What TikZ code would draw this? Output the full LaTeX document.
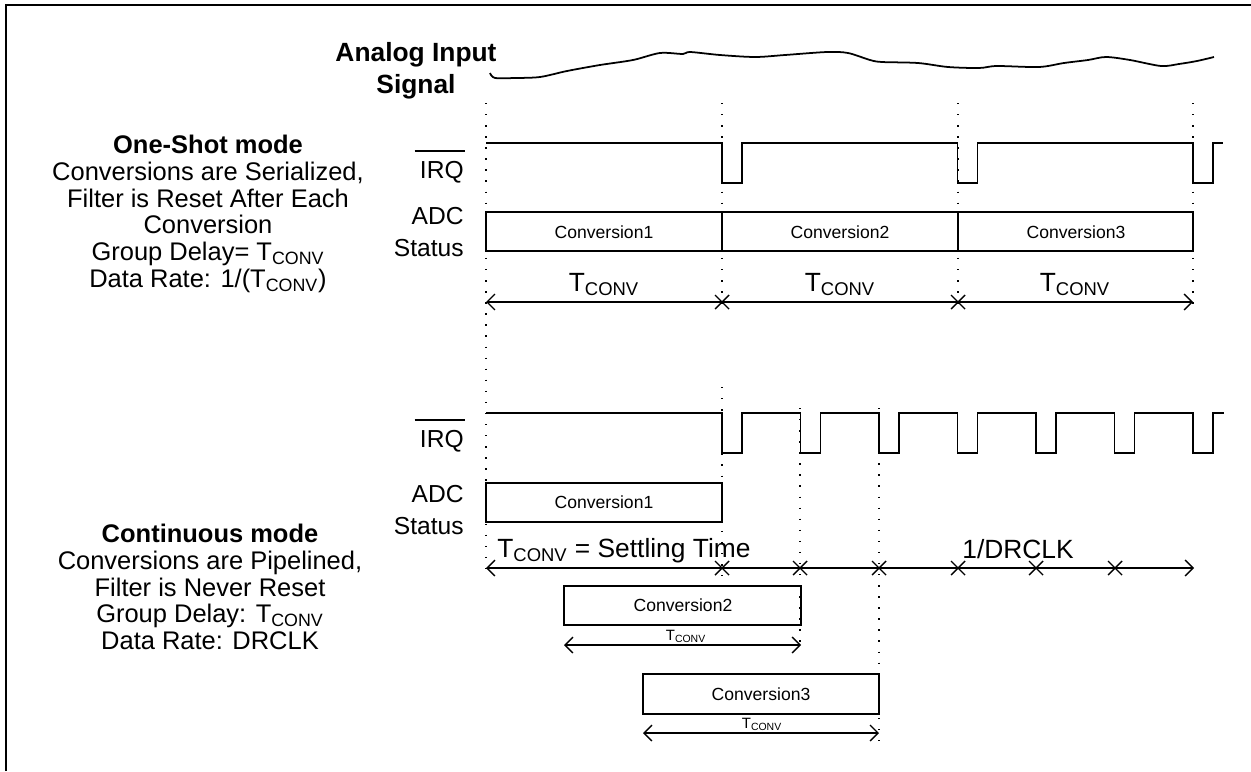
\documentclass[tikz,border=0pt]{standalone}
\usepackage{fontspec}
\setmainfont{Liberation Sans}
\usetikzlibrary{arrows.meta}

\newcommand{\tconv}{T\textsubscript{CONV}}
\newcommand{\ovbar}[1]{\setbox0\hbox{#1}\rlap{\kern-3pt\rule[\dimexpr\ht0+5pt\relax]{\dimexpr\wd0+4pt\relax}{0.9pt}}\box0}

\begin{document}
\begin{tikzpicture}[x=0.02cm, y=-0.02cm, >={Straight Barb[length=4.5pt,width=9pt]},
    wave/.style={line width=1.1pt},
    convbox/.style={line width=1pt},
    dimline/.style={line width=0.8pt},
    guide/.style={line width=0.8pt, dash pattern=on 0.8pt off 5.5pt},
    sidetext/.style={font=\fontsize{14.5}{15.25}\selectfont, align=center, inner sep=0pt},
    lbl/.style={font=\fontsize{14}{18.5}\selectfont, align=right, inner sep=0pt},
    boxtext/.style={font=\fontsize{10}{12}\selectfont, inner sep=0pt},
    bigtext/.style={font=\fontsize{15}{18}\selectfont, inner sep=0pt},
    smalltext/.style={font=\fontsize{8.5}{10}\selectfont, inner sep=0pt}]

\useasboundingbox (0,0) rectangle (1251,771);

% === Marco ===
\draw[line width=1.7pt] (6,771) -- (6,5) -- (1251,5);

% === Senal analogica ===
\node[font=\bfseries\fontsize{15}{18}\selectfont, align=center, inner sep=0pt] (analog) at (416,71) {Analog Input\\Signal};
\draw[line width=1pt] plot[smooth, tension=0.5] coordinates {
    (490,73) (495,78) (515,78) (540,77) (567,71) (600,65) (633,60) (660,53)
    (683,54) (690,52) (720,55) (755,57) (785,55) (827,52) (848,53) (870,60) (882,62)
    (918,63) (948,67) (979,68) (997,66) (1039,67) (1064,63) (1088,60) (1106,57)
    (1130,60) (1161,66) (1179,64) (1197,61) (1214,57)};

% === Lineas guia ===
\draw[guide] (486,103) -- (486,576);
\foreach \x in {722,958,1193}
    \draw[guide] (\x,103) -- (\x,312);
\draw[guide] (722,387) -- (722,576);
\draw[guide] (800,408) -- (800,650);
\draw[guide] (879,408) -- (879,745);

% === Modo One-Shot ===
\node[sidetext] (oneshot) at (208,214) {\textbf{One-Shot mode}\\Conversions are Serialized,\\Filter is Reset After Each\\Conversion\\Group Delay= \tconv\\Data Rate: 1/(\tconv)};
\node[lbl, anchor=base east] (irqA) at (464,178) {\ovbar{IRQ}};
\node[lbl, anchor=east] (adcA) at (464,232) {ADC\\Status};

% IRQ
\draw[wave] (486,143) foreach \k in {0,1,2} {
    -- ({722+235.5*\k},143) -- ({722+235.5*\k},183) -- ({742+235.5*\k},183) -- ({742+235.5*\k},143)
} -- (1223,143);

% Conversiones
\draw[convbox] (486,212) rectangle (1193,251);
\draw[convbox] (722,212) -- (722,251) (958,212) -- (958,251);
\node[boxtext] (convA1) at (604,232) {Conversion1};
\node[boxtext] (convA2) at (840,232) {Conversion2};
\node[boxtext] (convA3) at (1076,232) {Conversion3};

% T_CONV
\coordinate (tA0) at (486,302);
\coordinate (tA3) at (1193,302);
\draw[dimline, <->] (tA0) -- (tA3);
\foreach \x in {722,958}
    \draw[dimline] (\x-7,295) -- (\x+7,309) (\x-7,309) -- (\x+7,295);
\node[bigtext, anchor=base] (tconvA1) at (604,291) {\tconv};
\node[bigtext, anchor=base] (tconvA2) at (840,291) {\tconv};
\node[bigtext, anchor=base] (tconvA3) at (1075,291) {\tconv};

% === Modo continuo ===
\node[sidetext] (contmode) at (210,587) {\textbf{Continuous mode}\\Conversions are Pipelined,\\Filter is Never Reset\\Group Delay: \tconv\\Data Rate: DRCLK};
\node[lbl, anchor=base east] (irqB) at (464,447) {\ovbar{IRQ}};
\node[lbl, anchor=east] (adcB) at (464,510) {ADC\\Status};

% IRQ
\draw[wave] (486,413) foreach \k in {0,...,6} {
    -- ({722+78.5*\k},413) -- ({722+78.5*\k},453) -- ({742+78.5*\k},453) -- ({742+78.5*\k},413)
} -- (1224,413);

% Conversiones
\draw[convbox] (486,483) rectangle (722,522);
\node[boxtext] (convB1) at (604,502) {Conversion1};
\draw[convbox] (564,586) rectangle (801,625);
\node[boxtext] (convB2) at (683,605) {Conversion2};
\draw[convbox] (643,674) rectangle (879,714);
\node[boxtext] (convB3) at (761,694) {Conversion3};

% Tiempo de asentamiento y 1/DRCLK
\coordinate (tB0) at (486,568);
\coordinate (tB7) at (1194,568);
\draw[dimline, <->] (tB0) -- (tB7);
\foreach \x in {722,800,879,958,1036,1115}
    \draw[dimline] (\x-7,561) -- (\x+7,575) (\x-7,575) -- (\x+7,561);
\node[bigtext, anchor=base west] (settle) at (497,557) {\tconv\ = Settling Time};
\node[bigtext, anchor=base] (drclk) at (1018,558) {1/DRCLK};

% T_CONV de cada conversion
\coordinate (tC0) at (564,645);
\coordinate (tC1) at (801,645);
\draw[dimline, <->] (tC0) -- (tC1);
\node[smalltext, anchor=base] (tconvC) at (686,640) {\tconv};
\coordinate (tD0) at (643,733);
\coordinate (tD1) at (879,733);
\draw[dimline, <->] (tD0) -- (tD1);
\node[smalltext, anchor=base] (tconvD) at (762,728) {\tconv};

\end{tikzpicture}
\end{document}
